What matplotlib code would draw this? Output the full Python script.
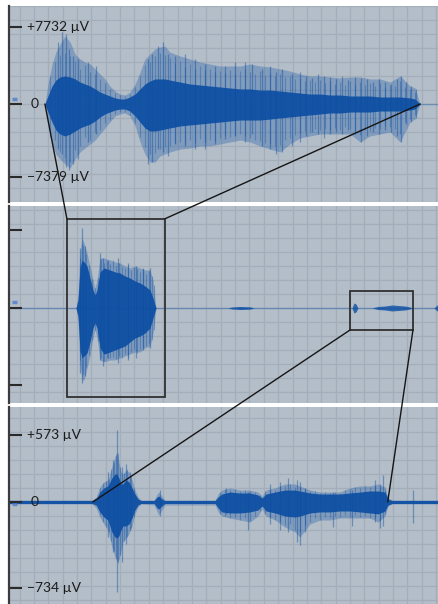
import matplotlib
matplotlib.use("Agg")
import matplotlib.pyplot as plt
from matplotlib.patches import Rectangle, ConnectionPatch
from matplotlib.transforms import blended_transform_factory
import numpy as np

plt.rcParams['font.family'] = ['Lato', 'DejaVu Sans']

# ---------------- Panel 1 (zoom of box in panel 2) : time in s, amplitude in µV
p1_t = [8.11, 8.22, 8.37, 8.51, 8.66, 8.84, 9.03, 9.21, 9.39, 9.57, 9.76, 9.94, 10.12, 10.30,
        10.48, 10.67, 10.85, 11.03, 11.21, 11.40, 11.58, 11.76, 11.94, 12.13, 12.31, 12.49,
        12.67, 13.04, 13.40, 13.77, 14.13, 14.50, 14.86, 15.23, 15.59, 15.96, 16.32, 16.69,
        17.05, 17.42, 17.78, 18.15, 18.51, 18.88, 19.24, 19.61, 19.97, 20.34, 20.70, 21.07,
        21.43, 21.61, 21.80]
p1_out_up = [0, 2020, 4040, 5250, 6060, 6870, 6260, 5050, 4550, 4240, 4040, 3540, 3030, 2530,
             1820, 1310, 1010, 910, 1210, 2020, 3230, 4550, 5050, 5560, 5760, 5860,
             5250, 4850, 4550, 4240, 4040, 3840, 3840, 3840, 4040, 3840, 3740, 3540,
             3330, 3030, 2830, 2830, 2730, 2630, 2730, 2730, 2530, 2530, 2220, 2830,
             1820, 1620, 0]
p1_out_dn = [0, 2020, 4040, 5050, 5560, 6060, 6460, 5560, 4850, 4440, 4040, 3640, 3030, 2420,
             1820, 1210, 1010, 910, 1210, 2220, 3840, 5050, 5860, 5860, 5250, 5050,
             4850, 4550, 4440, 4240, 4240, 4040, 3840, 3640, 3840, 4240, 4550, 4850,
             4040, 3430, 3230, 3030, 3030, 3030, 3030, 3840, 3230, 3030, 2830, 3840,
             1820, 1520, 0]
p1_core_up = [0, 810, 1820, 2420, 2730, 2830, 2730, 2530, 2220, 2020, 1820, 1520, 1210, 1010,
              810, 610, 510, 510, 710, 1010, 1520, 2020, 2320, 2530, 2530, 2530,
              2420, 2220, 2020, 1920, 1820, 1720, 1620, 1520, 1520, 1410, 1410, 1310,
              1210, 1110, 1010, 1010, 910, 910, 810, 810, 810, 710, 710, 710,
              610, 510, 0]
p1_core_dn = [0, 810, 1820, 2630, 3030, 3230, 3030, 2730, 2420, 2220, 2020, 1720, 1310, 1010,
              810, 610, 510, 510, 710, 1210, 1820, 2420, 2730, 2730, 2630, 2530,
              2420, 2220, 2120, 2020, 1920, 1820, 1720, 1620, 1620, 1620, 1520, 1410,
              1310, 1210, 1110, 1010, 910, 910, 810, 810, 810, 710, 710, 710,
              610, 510, 0]
# tallest individual spikes
p1_spk_t = [8.59, 8.73, 8.88, 8.99, 9.13, 9.32, 9.68, 9.97, 11.87, 12.02, 12.24, 12.42, 12.60,
            12.86, 13.22, 13.59, 13.95, 14.32, 14.68, 15.05, 15.41, 15.67, 16.03, 16.32, 16.54,
            16.76, 17.13, 17.42, 17.64, 17.85, 18.07, 18.29, 18.51, 18.73, 18.95, 19.17, 19.42,
            19.64, 19.86, 20.08, 20.30, 20.52, 20.74, 20.96, 21.10, 21.28, 21.47, 21.65]
p1_spk_up = [6260, 7270, 7070, 5560, 4850, 4550, 4240, 3840, 4550, 5050, 5860, 6260, 5050,
             4850, 5050, 4550, 4040, 3840, 3840, 4240, 4240, 4040, 3540, 3840, 3230,
             3540, 3030, 3230, 2830, 2630, 3030, 2830, 2730, 2530, 2830, 2420, 2730,
             2630, 2530, 2220, 2530, 2220, 2020, 2530, 2830, 2220, 1820, 1520]
p1_spk_dn = [4550, 5050, 6360, 6670, 6060, 5560, 3840, 3030, 6060, 5860, 4550, 4850, 5250,
             4040, 4240, 4550, 4550, 4040, 3540, 3230, 3840, 3030, 4240, 4550, 5050,
             4850, 4240, 3840, 3230, 2830, 3030, 3430, 3030, 2830, 3030, 2630, 3030,
             3840, 3230, 2830, 3030, 2630, 2830, 3230, 3840, 2020, 1820, 1410]
# finer hairs
p1_hair_t = [8.30, 8.48, 8.66, 8.84, 9.03, 9.21, 9.39, 9.57, 9.76, 9.94, 10.12, 10.30, 10.48,
             10.67, 10.85, 11.03, 11.21, 11.40, 11.58, 11.76, 11.94, 12.13, 12.31, 12.49,
             12.67, 12.85, 13.04, 13.22, 13.40, 13.59, 13.77, 13.95, 14.13, 14.32, 14.50,
             14.68, 14.86, 15.05, 15.23, 15.41, 15.59, 15.78, 15.96, 16.14, 16.32, 16.51,
             16.69, 16.87, 17.05, 17.24, 17.42, 17.60, 17.78, 17.96, 18.15, 18.33, 18.51,
             18.69, 18.88, 19.06, 19.24, 19.42, 19.61, 19.79, 19.97, 20.15, 20.34, 20.52,
             20.70, 20.88, 21.07, 21.25, 21.43, 21.61]
p1_hair_up = [2800, 4200, 5000, 5200, 4800, 4300, 3500, 3900, 3200, 3000, 2500, 2100, 1500,
              1100, 900, 800, 1000, 1700, 2800, 3900, 4200, 4800, 5200, 4900,
              4600, 4100, 4300, 3700, 4000, 3500, 3800, 3400, 3500, 3200, 3300,
              3100, 3400, 3000, 3300, 3500, 3200, 3000, 3300, 2900, 3100, 2800,
              3000, 2700, 2800, 2500, 2600, 2300, 2400, 2200, 2400, 2100, 2300,
              2000, 2200, 1900, 2300, 2000, 2200, 1900, 2100, 1800, 2100, 1700,
              1900, 1800, 2300, 1700, 1500, 1200]
p1_hair_dn = [3300, 3600, 4800, 5500, 5900, 4600, 4200, 3300, 3600, 2800, 2600, 1900, 1600,
              1000, 850, 800, 1100, 1900, 3300, 4300, 5100, 4900, 4500, 4300,
              4200, 3900, 3800, 4000, 3600, 3900, 3500, 3800, 3600, 3700, 3400,
              3200, 3300, 3100, 3000, 3200, 3400, 3600, 3700, 3900, 4000, 4200,
              4100, 3600, 3400, 3100, 2900, 2700, 2800, 2500, 2600, 2500, 2600,
              2400, 2600, 2300, 2500, 2700, 3100, 2600, 2700, 2400, 2500, 2200,
              2300, 2500, 3000, 1800, 1500, 1100]
p1_xlim = (6.8, 22.45)
p1_ylim = (-9900, 9900)
p1_ticks = [7732, 0, -7379]
p1_labels = ["+7732 µV", "0", "\u22127379 µV"]

# ---------------- Panel 2 (overview)
p2_t = [9.37, 9.65, 9.93, 10.21, 10.49, 10.91, 11.33, 11.75, 12.03, 12.31, 12.73, 13.29, 14.13,
        14.83, 15.52, 16.22, 16.92, 17.62, 18.32, 19.02, 19.72, 20.14, 20.56]
p2_out_up = [0, 1330, 6110, 7770, 7220, 6110, 4660, 3110, 2220, 3110, 5550, 5550, 5330, 5110,
             5000, 4660, 4440, 4660, 4440, 4220, 4220, 3110, 0]
p2_out_dn = [0, 1330, 6110, 7990, 7990, 6660, 5330, 3330, 2440, 3330, 5770, 5990, 5770, 5770,
             5550, 5330, 5110, 4880, 4880, 4440, 4220, 2780, 0]
p2_core_up = [0, 890, 4440, 5330, 5110, 4660, 3330, 2000, 1440, 2000, 4000, 4440, 4220, 4000,
              3890, 3550, 3330, 3000, 2780, 2440, 2000, 1110, 0]
p2_core_dn = [0, 890, 4660, 5550, 5330, 5000, 3770, 2220, 1670, 2220, 4440, 5110, 4880, 4660,
              4440, 4220, 3770, 3330, 3110, 2780, 2220, 1110, 0]
p2_spk_t = [9.93, 10.21, 10.63, 12.73, 13.15, 13.85, 15.24, 16.64, 17.76, 18.74, 19.72]
p2_spk_up = [6660, 8880, 6880, 6110, 5550, 5330, 5550, 5000, 4660, 4440, 4440]
p2_spk_dn = [7220, 8330, 7550, 5770, 6440, 5550, 6110, 5770, 5550, 4660, 4440]
p2_hair_t = [9.93, 10.35, 10.77, 11.19, 11.61, 12.03, 12.45, 12.87, 13.29, 13.71, 14.13, 14.55,
             14.97, 15.38, 15.80, 16.22, 16.64, 17.06, 17.48, 17.90, 18.32, 18.74, 19.16,
             19.58, 20.00, 20.28]
p2_hair_up = [5500, 7000, 6000, 4800, 3200, 2200, 3300, 5400, 5000, 5200, 4900, 5300, 4700,
              5000, 4600, 4400, 4800, 4200, 4500, 4300, 4000, 4300, 3800, 4100, 3500, 2600]
p2_hair_dn = [5800, 7300, 6500, 5200, 3500, 2400, 3700, 5600, 5900, 5500, 5600, 5400, 5700,
              5300, 5500, 5100, 5600, 4900, 4600, 5000, 4500, 4400, 4200, 3900, 3600, 2400]
p2_small_t = [30.63, 31.19, 32.31, 33.71, 34.27, 47.97, 48.25, 48.53, 48.81, 50.77, 51.61,
              52.59, 53.57, 54.41, 55.38, 56.08, 56.36, 59.44, 59.86, 60.0]
p2_small_amp = [0, 111, 170, 130, 0, 0, 555, 440, 0, 0, 170, 220, 330, 280, 220, 110, 0, 0, 330, 330]
p2_xlim = (0, 60)
p2_ylim = (-10545, 11322)
p2_ticks = [8660, 0, -8550]
p2_box1 = (8.1, 21.8, -9900, 9900)      # region shown in panel 1
p2_box3 = (47.7, 56.5, -2440, 1890)     # region shown in panel 3

# ---------------- Panel 3 (zoom of small box in panel 2)
p3_t = [45.20, 47.68, 47.80, 47.91, 48.03, 48.15, 48.27, 48.36, 48.42, 48.48, 48.54, 48.60,
        48.69, 48.78, 48.87, 48.96, 49.05, 49.14, 49.53, 49.62, 49.67, 49.76, 49.85, 51.35,
        51.44, 51.55, 51.79, 52.09, 52.39, 52.63, 52.75, 52.87, 53.14, 53.43, 53.73, 53.88,
        54.18, 54.48, 54.78, 55.07, 55.37, 55.67, 55.97, 56.21, 56.42, 56.51, 56.63, 58.00]
p3_out_up = [17, 17, 43, 128, 171, 188, 299, 384, 427, 342, 256, 239, 273, 256, 188, 102, 43, 17,
             17, 68, 85, 51, 17, 17, 68, 102, 120, 102, 102, 85, 51, 102, 120, 154, 154, 137,
             102, 85, 85, 85, 120, 137, 137, 154, 128, 34, 17, 17]
p3_out_dn = [17, 17, 51, 128, 188, 239, 384, 470, 512, 495, 427, 342, 307, 273, 205, 102, 43, 17,
             26, 85, 111, 68, 26, 26, 85, 120, 137, 154, 171, 120, 60, 120, 154, 214, 256, 299,
             188, 154, 154, 137, 137, 137, 137, 171, 120, 34, 17, 17]
p3_core_up = [13, 13, 26, 85, 120, 137, 205, 239, 239, 205, 154, 154, 188, 171, 120, 68, 26, 13,
              13, 43, 51, 26, 13, 13, 43, 68, 85, 77, 77, 60, 34, 68, 85, 102, 102, 94,
              77, 68, 68, 68, 77, 85, 94, 94, 85, 26, 13, 13]
p3_core_dn = [13, 13, 26, 85, 128, 154, 256, 299, 307, 290, 239, 205, 205, 188, 137, 68, 26, 13,
              13, 51, 60, 34, 13, 13, 51, 85, 94, 94, 85, 68, 34, 77, 94, 120, 128, 120,
              94, 85, 85, 77, 77, 85, 94, 102, 77, 26, 13, 13]
p3_spk_t = [48.15, 48.30, 48.42, 48.57, 48.69, 48.81, 49.70, 51.67, 52.33, 52.99, 53.28, 53.52,
            53.79, 53.88, 54.03, 54.87, 55.43, 56.12, 56.27, 56.36, 57.25]
p3_spk_up = [256, 359, 615, 299, 325, 256, 102, 120, 85, 154, 171, 205, 188, 171, 120, 85, 102,
             188, 154, 231, 102]
p3_spk_dn = [299, 427, 769, 512, 359, 239, 120, 102, 239, 188, 239, 256, 342, 367, 256, 214, 205,
             171, 222, 205, 179]
p3_hair_t = [47.91, 48.00, 48.09, 48.18, 48.24, 48.33, 48.39, 48.45, 48.51, 48.63, 48.72, 48.84,
             48.93,
             51.49, 51.64, 51.79, 51.94, 52.09, 52.24, 52.39, 52.54, 52.68, 52.83, 52.98, 53.13,
             53.28, 53.43, 53.58, 53.73, 53.88, 54.03, 54.18, 54.33, 54.47, 54.62, 54.77, 54.92,
             55.07, 55.22, 55.37, 55.52, 55.67, 55.82, 55.97, 56.12, 56.26, 56.41]
p3_hair_up = [120, 160, 180, 200, 280, 340, 400, 420, 300, 250, 280, 230, 120,
              85, 110, 100, 115, 90, 100, 95, 85, 60, 95, 110, 105,
              135, 140, 150, 130, 125, 110, 95, 90, 80, 85, 75, 85,
              80, 100, 110, 125, 120, 135, 125, 140, 130, 110]
p3_hair_dn = [110, 175, 210, 260, 330, 420, 480, 520, 450, 330, 300, 220, 130,
              100, 120, 135, 125, 150, 140, 165, 120, 75, 105, 125, 150,
              160, 200, 190, 240, 260, 200, 170, 140, 150, 125, 140, 120,
              130, 115, 130, 115, 130, 120, 135, 140, 160, 100]
p3_xlim = (45.2, 58.0)
p3_ylim = (-871, 811)
p3_ticks = [573, 0, -734]
p3_labels = ["+573 µV", "0", "\u2212734 µV"]

# ---------------- style
BG = '#b4bec8'
GRID = '#a3aeba'
BLUE = '#0c4ea3'
W_PX, H_PX = 438, 604

fig = plt.figure(figsize=(W_PX / 100, H_PX / 100), dpi=100)
fig.patch.set_facecolor('white')
L, W = 9 / W_PX, 429 / W_PX
ax1 = fig.add_axes([L, 1 - 202 / H_PX, W, 196 / H_PX])
ax2 = fig.add_axes([L, 1 - 403 / H_PX, W, 197 / H_PX])
ax3 = fig.add_axes([L, 0, W, 197 / H_PX])


def style(ax, xlim, ylim, h_px):
    ax.set_xlim(xlim)
    ax.set_ylim(ylim)
    ax.set_facecolor(BG)
    for s in ['top', 'right', 'bottom']:
        ax.spines[s].set_visible(False)
    ax.spines['left'].set_color('#3c3c3c')
    ax.spines['left'].set_linewidth(1.6)
    ax.spines['left'].set_zorder(8)
    ax.set_xticks([])
    ax.set_yticks([])
    tr = ax.transAxes
    step_x = 14.37 / 429
    for k in np.arange(10.5 / 429, 1, step_x):
        ax.plot([k, k], [0, 1], transform=tr, color=GRID, lw=0.9, zorder=0)
    zero = -ylim[0] / (ylim[1] - ylim[0])
    step_y = 14.0 / h_px
    k = zero % step_y
    while k < 1:
        ax.plot([0, 1], [k, k], transform=tr, color=GRID, lw=0.9, zorder=0)
        k += step_y


def ticks(ax, vals, labels=None):
    tr = blended_transform_factory(ax.transAxes, ax.transData)
    for i, v in enumerate(vals):
        ax.plot([0, 13 / 429], [v, v], transform=tr, color='#2a2a2a', lw=1.5,
                zorder=7, clip_on=False, solid_capstyle='butt')
        if labels:
            x = (21.5 if labels[i] == "0" else 18) / 429
            ax.text(x, v, labels[i], transform=tr, va='center', ha='left',
                    fontsize=10, color='#1c1c1c', zorder=9)


def side_mark(ax, y):
    tr = blended_transform_factory(ax.transAxes, ax.transData)
    ax.plot([3 / 429, 8 / 429], [y, y], transform=tr, color='#4a78c8', lw=2.5,
            alpha=0.75, zorder=6, solid_capstyle='butt')


def wave(ax, t, oup, odn, cup, cdn, st, sup, sdn, ht, hup, hdn):
    t = np.asarray(t)
    ax.fill_between(t, oup, -np.asarray(odn), color=BLUE, alpha=0.30, lw=0, zorder=2)
    ax.vlines(ht, -np.asarray(hdn), hup, color=BLUE, alpha=0.35, lw=0.8, zorder=3)
    ax.vlines(st, -np.asarray(sdn), sup, color=BLUE, alpha=0.45, lw=0.9, zorder=3)
    ax.fill_between(t, cup, -np.asarray(cdn), color=BLUE, alpha=0.92, lw=0, zorder=4)


style(ax1, p1_xlim, p1_ylim, 196)
style(ax2, p2_xlim, p2_ylim, 197)
style(ax3, p3_xlim, p3_ylim, 197)

# panel 1
wave(ax1, p1_t, p1_out_up, p1_out_dn, p1_core_up, p1_core_dn, p1_spk_t, p1_spk_up, p1_spk_dn,
     p1_hair_t, p1_hair_up, p1_hair_dn)
ax1.plot([p1_t[-1], p1_xlim[1]], [0, 0], color=BLUE, alpha=0.35, lw=1, zorder=2)
ticks(ax1, p1_ticks, p1_labels)
side_mark(ax1, 505)

# panel 2
ax2.axhline(0, color=BLUE, alpha=0.4, lw=1.0, zorder=2)
wave(ax2, p2_t, p2_out_up, p2_out_dn, p2_core_up, p2_core_dn, p2_spk_t, p2_spk_up, p2_spk_dn,
     p2_hair_t, p2_hair_up, p2_hair_dn)
ax2.fill_between(p2_small_t, p2_small_amp, -np.asarray(p2_small_amp), color=BLUE, alpha=0.8,
                 lw=0, zorder=4)
ticks(ax2, p2_ticks)
side_mark(ax2, 666)
for (x0, x1, y0, y1) in (p2_box1, p2_box3):
    ax2.add_patch(Rectangle((x0, y0), x1 - x0, y1 - y0, fill=False, ec='#303030', lw=1.3, zorder=10))

# panel 3
wave(ax3, p3_t, p3_out_up, p3_out_dn, p3_core_up, p3_core_dn, p3_spk_t, p3_spk_up, p3_spk_dn,
     p3_hair_t, p3_hair_up, p3_hair_dn)
ticks(ax3, p3_ticks, p3_labels)
side_mark(ax3, -20)

# connector lines
conns = [
    ((p1_t[0], 0), ax1, (p2_box1[0], p2_box1[3]), ax2),
    ((p1_t[-1], 0), ax1, (p2_box1[1], p2_box1[3]), ax2),
    ((p2_box3[0], p2_box3[2]), ax2, (p2_box3[0], 0), ax3),
    ((p2_box3[1], p2_box3[2]), ax2, (p2_box3[1], 0), ax3),
]
for xyA, axA, xyB, axB in conns:
    con = ConnectionPatch(xyA=xyA, coordsA=axA.transData, xyB=xyB, coordsB=axB.transData,
                          color='#151515', lw=1.0, zorder=20)
    fig.add_artist(con)

fig.savefig('out.png', dpi=100, facecolor='white')
